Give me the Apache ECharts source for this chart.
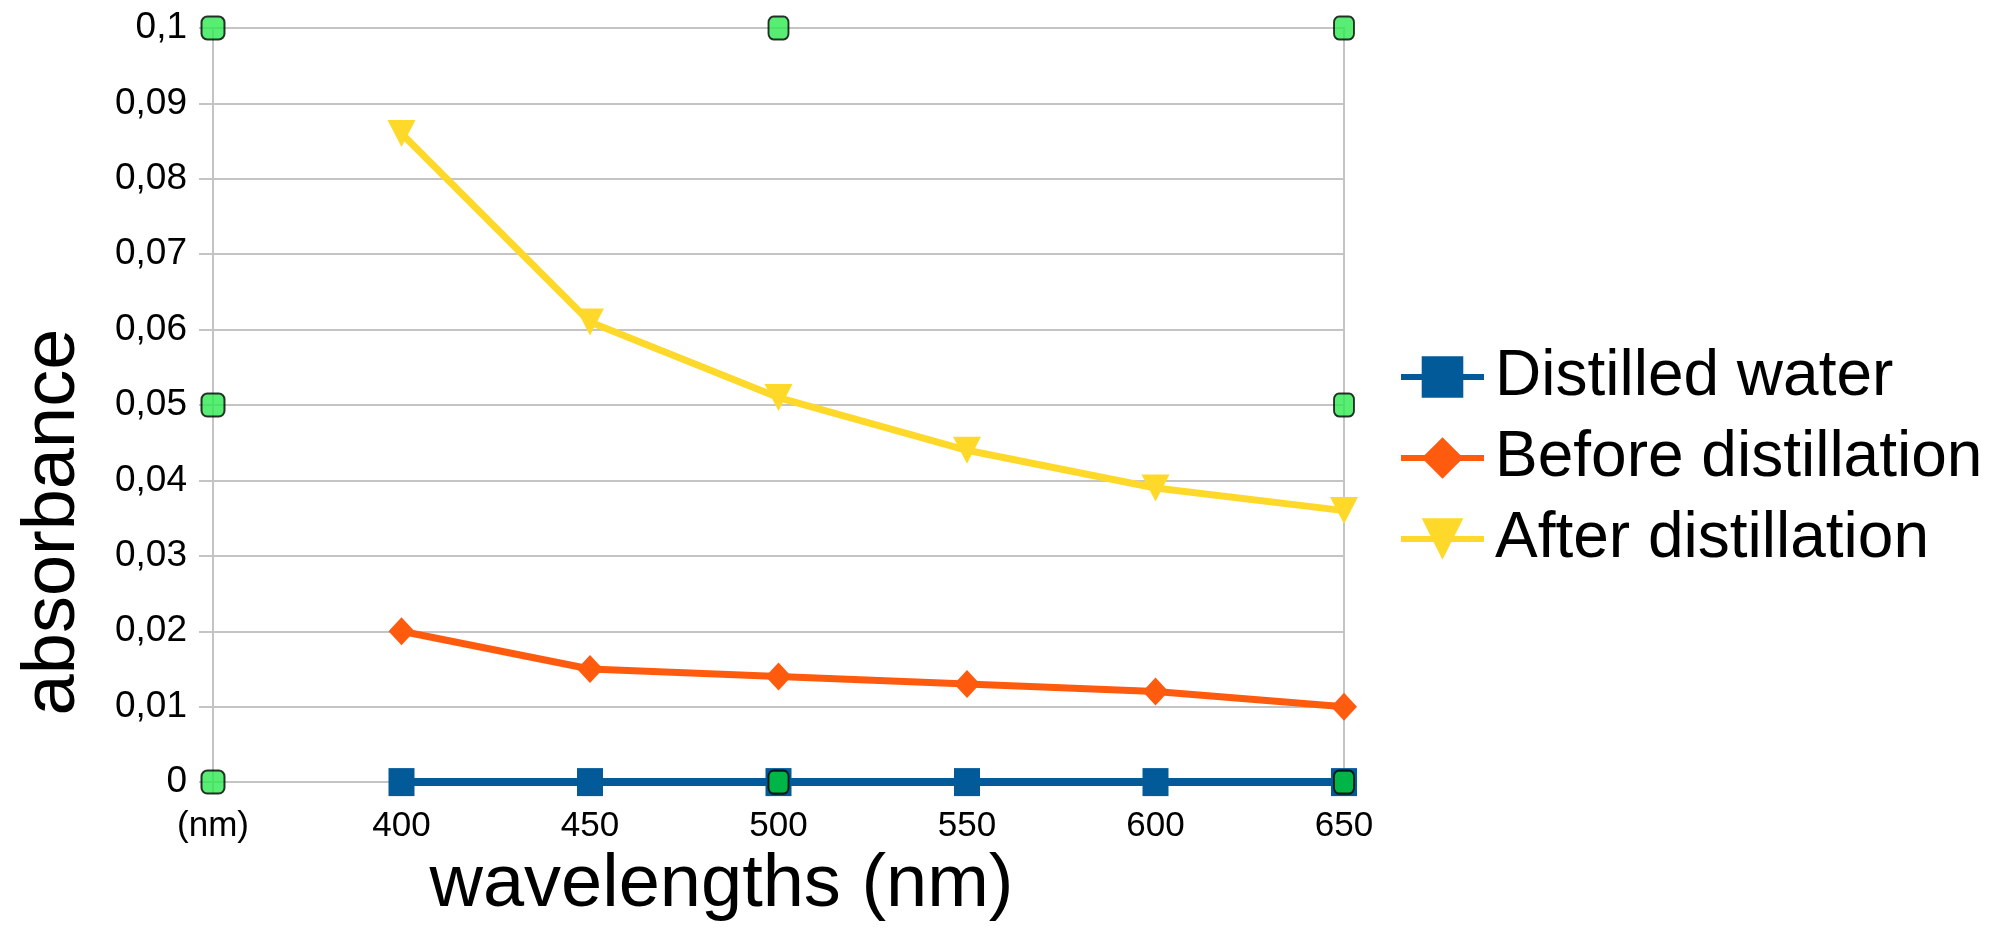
<!DOCTYPE html>
<html>
<head>
<meta charset="utf-8">
<script src="https://cdn.jsdelivr.net/npm/echarts@6/dist/echarts.min.js"></script>
<style>
  html, body { margin: 0; padding: 0; background: #ffffff; }
  #chart { width: 2011px; height: 928px; }
</style>
</head>
<body>
<div id="chart"></div>
<script>
// ---- data ----
const categories = ['(nm)', '400', '450', '500', '550', '600', '650'];
const distilledWater = [null, 0, 0, 0, 0, 0, 0];
const beforeDistillation = [null, 0.020, 0.015, 0.014, 0.013, 0.012, 0.010];
const afterDistillation = [null, 0.086, 0.061, 0.051, 0.044, 0.039, 0.036];
// frame marker points (not in legend)
const frameX = ['(nm)', '(nm)', '(nm)', '500', '500', '650', '650', '650'];
const frameY = [0, 0.05, 0.1, 0, 0.1, 0, 0.05, 0.1];
const yTicks = { min: 0, max: 0.1, interval: 0.01 };

const FONT = 'Liberation Sans';
const chart = echarts.init(document.getElementById('chart'), null, { renderer: 'canvas' });

const framePoints = frameX.map((x, i) => [x, frameY[i]]);

chart.setOption({
  backgroundColor: '#ffffff',
  animation: false,
  textStyle: { fontFamily: FONT },
  grid: {
    left: 213, right: 667, top: 28, bottom: 145,
    show: true, borderColor: '#c4c4c4', borderWidth: 2
  },
  legend: {
    orient: 'vertical',
    left: 1398, top: 345, padding: 0,
    itemWidth: 83, itemHeight: 52, itemGap: 17,
    data: ['Distilled water', 'Before distillation', 'After distillation'],
    textStyle: { fontSize: 64, color: '#000', fontFamily: FONT, padding: [0, 0, 0, 6] },
    lineStyle: { width: 6 }
  },
  xAxis: {
    type: 'category',
    data: categories,
    boundaryGap: false,
    name: 'wavelengths (nm)',
    nameLocation: 'middle',
    nameGap: 66,
    nameTextStyle: { fontSize: 74, color: '#000', fontFamily: FONT, padding: [0, 114, 0, 0] },
    axisLine: { show: true, lineStyle: { color: '#c4c4c4', width: 2 } },
    axisTick: { show: true, length: 12, alignWithLabel: true, lineStyle: { color: '#c4c4c4', width: 2 } },
    axisLabel: { fontSize: 35, color: '#000', margin: 27, fontFamily: FONT },
    splitLine: { show: false }
  },
  yAxis: {
    type: 'value',
    min: yTicks.min, max: yTicks.max, interval: yTicks.interval,
    name: 'absorbance',
    nameLocation: 'middle',
    nameRotate: 90,
    nameGap: 122,
    nameTextStyle: { fontSize: 74, color: '#000', fontFamily: FONT, padding: [0, 234, 0, 0] },
    axisLine: { show: true, lineStyle: { color: '#c4c4c4', width: 2 } },
    axisTick: { show: true, length: 14, lineStyle: { color: '#c4c4c4', width: 2 } },
    axisLabel: {
      fontSize: 37, color: '#000', margin: 26, fontFamily: FONT,
      formatter: v => String(Number(v.toFixed(2))).replace('.', ',')
    },
    splitLine: { show: true, lineStyle: { color: '#c4c4c4', width: 2 } }
  },
  series: [
    {
      name: 'Distilled water', type: 'line', data: distilledWater,
      symbol: 'rect', symbolSize: [26, 28], showAllSymbol: true,
      lineStyle: { color: '#035a99', width: 8 },
      itemStyle: { color: '#035a99' }, z: 4
    },
    {
      name: 'Before distillation', type: 'line', data: beforeDistillation,
      symbol: 'diamond', symbolSize: [26, 28], showAllSymbol: true,
      lineStyle: { color: '#ff5b0f', width: 7 },
      itemStyle: { color: '#ff5b0f' }, z: 3
    },
    {
      name: 'After distillation', type: 'line', data: afterDistillation,
      symbol: 'triangle', symbolRotate: 180, symbolSize: [28, 27], showAllSymbol: true,
      lineStyle: { color: '#ffd92a', width: 7 },
      itemStyle: { color: '#ffd92a' }, z: 3
    },
    {
      name: 'frame', type: 'scatter', data: framePoints,
      symbol: 'roundRect',
      symbolSize: v => v[0] === '(nm)' ? [23, 23] : [20, 23],
      itemStyle: {
        color: p => (p.value[0] !== '(nm)' && p.value[1] === 0) ? '#00cc33' : '#2ee850',
        borderColor: '#000', borderWidth: 2
      },
      z: 6
    }
  ]
});
</script>
</body>
</html>
